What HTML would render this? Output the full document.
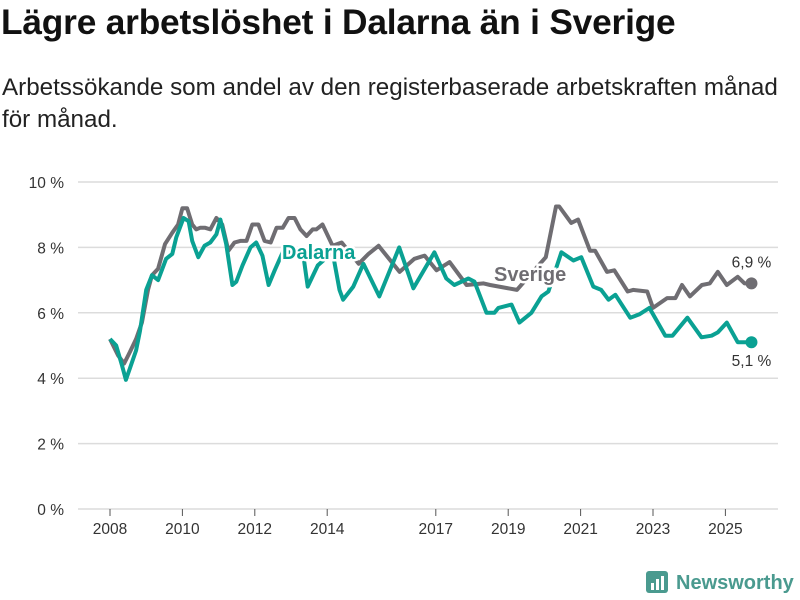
<!DOCTYPE html>
<html><head><meta charset="utf-8"><style>
body{margin:0;background:#fff;font-family:"Liberation Sans","DejaVu Sans",sans-serif;}
#wrap{position:relative;width:800px;height:600px;overflow:hidden}
h1{position:absolute;left:1px;top:3px;margin:0;font-size:35.3px;font-weight:bold;color:#111;letter-spacing:-0.2px;white-space:nowrap}
p.sub{position:absolute;left:2px;top:72px;margin:0;font-size:24.2px;line-height:32px;color:#222;width:798px;white-space:nowrap}
</style></head><body>
<div id="wrap">
<h1>Lägre arbetslöshet i Dalarna än i Sverige</h1>
<p class="sub">Arbetssökande som andel av den registerbaserade arbetskraften månad<br>för månad.</p>
<svg id="chart" width="800" height="600" style="position:absolute;left:0;top:0"></svg>
</div>
<script>
const yTicks=[0,2,4,6,8,10];
const xTickYears=[2008,2010,2012,2014,2017,2019,2021,2023,2025];
const sverigeX=[2008.0,2008.22,2008.39,2008.55,2008.72,2008.88,2009.05,2009.16,2009.33,2009.52,2009.72,2009.88,2010.0,2010.13,2010.27,2010.38,2010.49,2010.63,2010.77,2010.94,2011.1,2011.27,2011.44,2011.6,2011.77,2011.93,2012.1,2012.27,2012.44,2012.6,2012.77,2012.93,2013.1,2013.26,2013.43,2013.6,2013.7,2013.87,2014.15,2014.4,2014.87,2015.14,2015.42,2016.0,2016.41,2016.69,2017.02,2017.38,2017.85,2018.32,2018.5,2019.24,2020.04,2020.32,2020.41,2020.74,2020.93,2021.26,2021.4,2021.73,2021.93,2022.3,2022.45,2022.84,2023.0,2023.39,2023.62,2023.8,2024.02,2024.35,2024.57,2024.79,2025.04,2025.34,2025.53,2025.72];
const sverigeV=[5.2,4.7,4.45,4.8,5.2,5.7,6.7,7.15,7.35,8.1,8.45,8.7,9.2,9.2,8.7,8.55,8.6,8.6,8.55,8.9,8.7,7.9,8.15,8.2,8.2,8.7,8.7,8.2,8.15,8.6,8.6,8.9,8.9,8.55,8.35,8.55,8.55,8.7,8.05,8.15,7.5,7.8,8.05,7.25,7.65,7.75,7.3,7.55,6.85,6.9,6.85,6.7,7.7,9.25,9.25,8.75,8.85,7.9,7.9,7.25,7.3,6.65,6.7,6.65,6.15,6.45,6.45,6.85,6.5,6.85,6.9,7.25,6.85,7.1,6.9,6.9];
const dalarnaX=[2008.0,2008.17,2008.33,2008.44,2008.55,2008.72,2008.83,2009.0,2009.16,2009.33,2009.55,2009.72,2009.83,2010.03,2010.17,2010.27,2010.44,2010.61,2010.77,2010.94,2011.05,2011.21,2011.38,2011.49,2011.66,2011.88,2012.04,2012.21,2012.38,2012.55,2012.77,2013.33,2013.46,2013.74,2014.15,2014.34,2014.44,2014.72,2015.0,2015.44,2015.99,2016.38,2016.96,2017.29,2017.51,2017.9,2018.07,2018.4,2018.62,2018.73,2019.09,2019.31,2019.64,2019.92,2020.11,2020.47,2020.8,2021.02,2021.35,2021.57,2021.77,2021.96,2022.37,2022.62,2022.9,2023.34,2023.54,2023.95,2024.34,2024.62,2024.79,2025.04,2025.34,2025.53,2025.72];
const dalarnaV=[5.2,5.0,4.4,3.95,4.3,4.85,5.45,6.7,7.15,7.0,7.65,7.8,8.3,8.9,8.8,8.2,7.7,8.05,8.15,8.4,8.85,8.1,6.85,6.95,7.45,8.0,8.15,7.75,6.85,7.3,7.85,7.85,6.8,7.45,7.85,6.7,6.4,6.8,7.5,6.5,8.0,6.75,7.85,7.05,6.85,7.05,6.95,6.0,6.0,6.15,6.25,5.7,6.0,6.5,6.65,7.85,7.6,7.7,6.8,6.7,6.4,6.55,5.85,5.95,6.15,5.3,5.3,5.85,5.25,5.3,5.4,5.7,5.1,5.1,5.1];
const NS="http://www.w3.org/2000/svg";
const svg=document.getElementById('chart');
const X0=78,X1=778,Y0=509,Y1=182;
function xs(t){return 110+(t-2008)*36.2;}
function ys(v){return Y0-(v/10)*(Y0-Y1);}
function mk(tag,attrs,parent){const e=document.createElementNS(NS,tag);for(const k in attrs)e.setAttribute(k,attrs[k]);(parent||svg).appendChild(e);return e;}
yTicks.forEach(v=>{
  const l=mk('line',{x1:X0,x2:X1,y1:ys(v),y2:ys(v),stroke:'#dcdcdc','stroke-width':1.5});
  
  
  const t=mk('text',{x:64,y:ys(v)+6,'text-anchor':'end','font-size':15.5,fill:'#333'});
  t.textContent=v+' %';
  
  
});
xTickYears.forEach(yr=>{
  const l=mk('line',{x1:xs(yr),x2:xs(yr),y1:Y0,y2:Y0+7,stroke:'#555','stroke-width':1});
  
  
  const t=mk('text',{x:xs(yr),y:534,'text-anchor':'middle','font-size':15.5,fill:'#333'});
  t.textContent=yr;
  
  
});
function path(xa,va){return xa.map((t,i)=>(i?'L':'M')+xs(t).toFixed(1)+','+ys(va[i]).toFixed(1)).join(' ');}
const ps=mk('path',{d:path(sverigeX,sverigeV),fill:'none',stroke:'#6f6d72','stroke-width':4,'stroke-linejoin':'round'});


const pd=mk('path',{d:path(dalarnaX,dalarnaV),fill:'none',stroke:'#0aa193','stroke-width':4,'stroke-linejoin':'round'});


const ls=sverigeX.length-1, ld=dalarnaX.length-1;
const ds=mk('circle',{cx:xs(sverigeX[ls]),cy:ys(sverigeV[ls]),r:6,fill:'#6f6d72'});


const dd=mk('circle',{cx:xs(dalarnaX[ld]),cy:ys(dalarnaV[ld]),r:6,fill:'#0aa193'});


const vs=mk('text',{x:xs(sverigeX[ls]),y:ys(sverigeV[ls])-16,'text-anchor':'middle','font-size':15.5,fill:'#333'});
vs.textContent=String(sverigeV[ls]).replace('.',',')+' %';


const vd=mk('text',{x:xs(dalarnaX[ld]),y:ys(dalarnaV[ld])+24,'text-anchor':'middle','font-size':15.5,fill:'#333'});
vd.textContent=String(dalarnaV[ld]).replace('.',',')+' %';


const lD=mk('text',{x:282,y:259,'font-size':20,'font-weight':'bold',fill:'#0aa193',stroke:'#fff','stroke-width':5,'paint-order':'stroke'});
lD.textContent='Dalarna';


const lS=mk('text',{x:494,y:281,'font-size':20,'font-weight':'bold',fill:'#6f6d72',stroke:'#fff','stroke-width':5,'paint-order':'stroke'});
lS.textContent='Sverige';


const g=mk('g',{});


mk('rect',{x:646,y:571,width:22,height:22,rx:3,fill:'#4a9a8f'},g);
mk('rect',{x:651,y:583,width:3,height:7,fill:'#fff'},g);
mk('rect',{x:656,y:579,width:3,height:11,fill:'#fff'},g);
mk('rect',{x:661,y:576,width:3,height:14,fill:'#fff'},g);
const nt=mk('text',{x:676,y:589,'font-size':20,'font-weight':'bold',fill:'#4a9a8f'},g);
nt.textContent='Newsworthy';
</script>
</body></html>
